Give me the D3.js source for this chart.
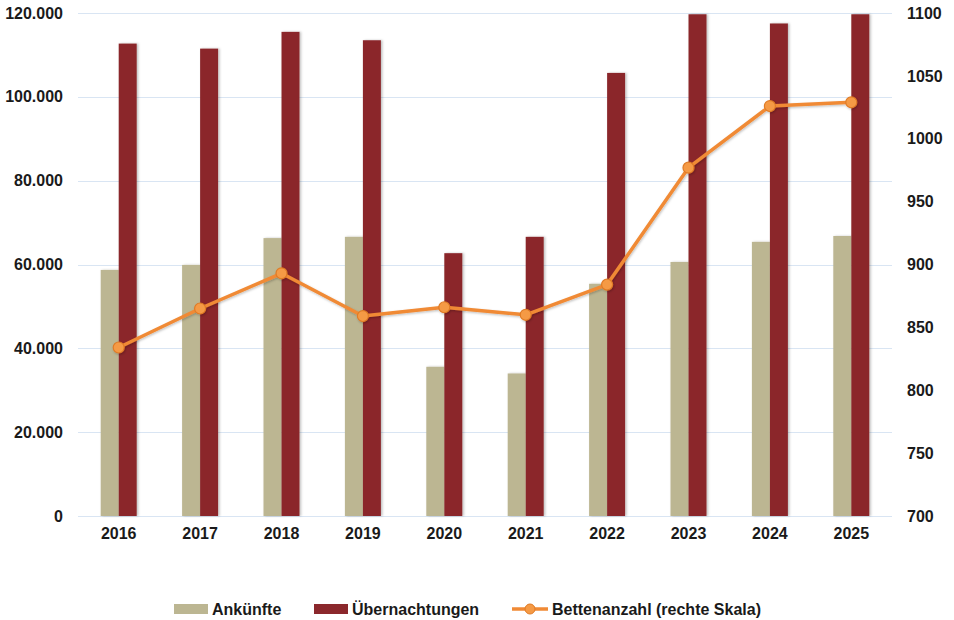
<!DOCTYPE html>
<html><head><meta charset="utf-8">
<script src="https://cdn.jsdelivr.net/npm/d3@7"></script>
<style>body{margin:0;background:#fff}</style>
</head><body>
<svg id="c" width="954" height="620"></svg>
<script>
const years = ["2016","2017","2018","2019","2020","2021","2022","2023","2024","2025"];
const ankuenfte = [58700, 59900, 66300, 66600, 35600, 34000, 55400, 60600, 65400, 66800];
const uebernachtungen = [112700, 111500, 115500, 113500, 62700, 66600, 105700, 119700, 117500, 119700];
const betten = [834, 865, 893, 859, 866, 860, 884, 977, 1026, 1029];
const leftTicks = [0, 20000, 40000, 60000, 80000, 100000, 120000];
const rightTicks = [700, 750, 800, 850, 900, 950, 1000, 1050, 1100];
const seriesNames = ["Ankünfte", "Übernachtungen", "Bettenanzahl (rechte Skala)"];

const svg = d3.select("#c");
const L = 78, R = 892, T = 13, B = 516;
const x = d3.scaleBand().domain(years).range([L, R]);
const yL = d3.scaleLinear().domain([0, 120000]).range([B, T]);
const yR = d3.scaleLinear().domain([700, 1100]).range([B, T]);
const fmt = d3.formatLocale({decimal: ",", thousands: ".", grouping: [3], currency: ["", "€"]}).format(",.0f");
const fmtR = d3.format("d");
const font = "'Liberation Sans', Arial, sans-serif";
const fs = 16;

const defs = svg.append("defs");
const f = defs.append("filter").attr("id", "sh").attr("x", "-30%").attr("y", "-10%").attr("width", "160%").attr("height", "120%");
f.append("feDropShadow").attr("dx", 1.5).attr("dy", 0).attr("stdDeviation", 1.2).attr("flood-color", "#000").attr("flood-opacity", 0.25);
const f2 = defs.append("filter").attr("id", "sh2").attr("x", "-10%").attr("y", "-10%").attr("width", "120%").attr("height", "120%");
f2.append("feDropShadow").attr("dx", 0.8).attr("dy", 1.2).attr("stdDeviation", 1).attr("flood-color", "#000").attr("flood-opacity", 0.25);

// grid
svg.append("g").selectAll("line").data(leftTicks).join("line")
  .attr("x1", L).attr("x2", R).attr("y1", d => Math.round(yL(d)) + 0.5).attr("y2", d => Math.round(yL(d)) + 0.5)
  .attr("stroke", "#d9e5f3").attr("stroke-width", 1.2);

const bw = 18;
svg.append("g").selectAll("rect").data(ankuenfte).join("rect")
  .attr("x", (d, i) => x(years[i]) + x.bandwidth() / 2 - bw)
  .attr("y", d => yL(d)).attr("width", bw).attr("height", d => B - yL(d))
  .attr("fill", "#bcb692").attr("filter", "url(#sh)");
svg.append("g").selectAll("rect").data(uebernachtungen).join("rect")
  .attr("x", (d, i) => x(years[i]) + x.bandwidth() / 2)
  .attr("y", d => yL(d)).attr("width", bw).attr("height", d => B - yL(d))
  .attr("fill", "#8b282c").attr("filter", "url(#sh)");

// line
const lineG = svg.append("g").attr("filter", "url(#sh2)");
const line = d3.line().x((d, i) => x(years[i]) + x.bandwidth() / 2).y(d => yR(d));
lineG.append("path").datum(betten).attr("d", line).attr("fill", "none")
  .attr("stroke", "#f08a35").attr("stroke-width", 3.5).attr("stroke-linejoin", "round");
lineG.append("g").selectAll("circle").data(betten).join("circle")
  .attr("cx", (d, i) => x(years[i]) + x.bandwidth() / 2).attr("cy", d => yR(d)).attr("r", 5.5)
  .attr("fill", "#f59a45").attr("stroke", "#e07b25").attr("stroke-width", 1.2);

// axes
const axL = svg.append("g").attr("transform", `translate(${L},0)`)
  .call(d3.axisLeft(yL).tickValues(leftTicks).tickFormat(fmt).tickSize(0).tickPadding(15));
const axR = svg.append("g").attr("transform", `translate(${R},0)`)
  .call(d3.axisRight(yR).tickValues(rightTicks).tickFormat(fmtR).tickSize(0).tickPadding(15));
const axB = svg.append("g").attr("transform", `translate(0,${B})`)
  .call(d3.axisBottom(x).tickSize(0).tickPadding(12));
[axL, axR, axB].forEach(a => {
  a.select(".domain").remove();
  a.selectAll("text").attr("font-family", font).attr("font-weight", "bold").attr("font-size", fs).attr("fill", "#1a1a1a");
});

// legend
const lg = svg.append("g").attr("font-family", font).attr("font-weight", "bold").attr("font-size", fs).attr("fill", "#1a1a1a");
lg.append("rect").attr("x", 174).attr("y", 604).attr("width", 34).attr("height", 10).attr("fill", "#bcb692");
lg.append("text").attr("x", 212).attr("y", 615).text(seriesNames[0]);
lg.append("rect").attr("x", 314).attr("y", 604).attr("width", 34).attr("height", 10).attr("fill", "#8b282c");
lg.append("text").attr("x", 352).attr("y", 615).text(seriesNames[1]);
lg.append("line").attr("x1", 512).attr("x2", 548).attr("y1", 609).attr("y2", 609).attr("stroke", "#f08a35").attr("stroke-width", 3.5);
lg.append("circle").attr("cx", 530).attr("cy", 609).attr("r", 5).attr("fill", "#f59a45").attr("stroke", "#e07b25");
lg.append("text").attr("x", 552).attr("y", 615).text(seriesNames[2]);
</script>
</body></html>
